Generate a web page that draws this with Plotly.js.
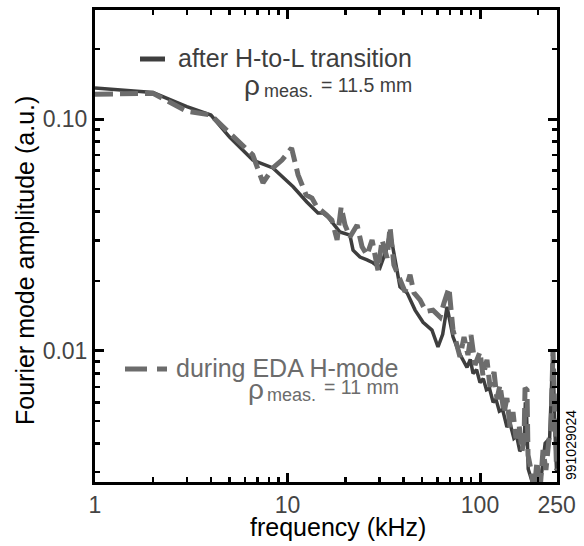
<!DOCTYPE html>
<html>
<head>
<meta charset="utf-8">
<script src="https://cdn.plot.ly/plotly-3.0.1.min.js"></script>
<style>html,body{margin:0;padding:0;background:#fff;}#chart{width:584px;height:546px;}</style>
</head>
<body>
<div id="chart"></div>
<script>
// Series "after H-to-L transition" (solid)
const freqA = [1, 2, 3, 4, 5, 5.7, 6.6, 8.4, 10.7, 12.6, 14.4, 15.3, 16.2, 18.7, 21.1, 21.9, 23.8, 25.9, 27.8, 30.2, 32.5, 34.1, 37.0, 38.4, 41.8, 46, 50.6, 56.3, 60.5, 64, 67.4, 72.4, 78, 82, 85.6, 89, 92, 96, 100, 104, 108, 112, 117, 121, 126, 131, 138, 143, 150, 155, 161, 166, 170, 172, 174, 178, 190, 205, 218, 230, 239, 245, 250];
const ampA = [0.136, 0.130, 0.113, 0.104, 0.0836, 0.075, 0.0665, 0.0615, 0.051, 0.0439, 0.0393, 0.0393, 0.0378, 0.0326, 0.0316, 0.0272, 0.0254, 0.0247, 0.024, 0.0228, 0.027, 0.0326, 0.0217, 0.0189, 0.0178, 0.0150, 0.0133, 0.0123, 0.0104, 0.0118, 0.0155, 0.0115, 0.0098, 0.0090, 0.0085, 0.0092, 0.0080, 0.0083, 0.0073, 0.0076, 0.0068, 0.0069, 0.0060, 0.0062, 0.0055, 0.0056, 0.0047, 0.0049, 0.0042, 0.0043, 0.0037, 0.0038, 0.0040, 0.0060, 0.0058, 0.0031, 0.0026, 0.0026, 0.0040, 0.0042, 0.0101, 0.0045, 0.0030];

// Series "during EDA H-mode" (dashed)
const freqB = [1, 2, 3, 4, 5, 6, 6.6, 7.46, 8.4, 9.36, 10.5, 11.35, 12.5, 13.4, 14.2, 16.0, 17.0, 18.1, 19.0, 19.9, 21.1, 23.0, 24.4, 25.9, 27.5, 29.5, 31.0, 32.9, 34.1, 35.7, 38.4, 40.8, 43.3, 45.4, 48.8, 52.4, 57.0, 62.0, 65.0, 69.0, 72.4, 76.9, 78.7, 82.6, 86.6, 89.8, 94.2, 100, 103.7, 108.7, 112.7, 118.3, 122.5, 127, 133.3, 138, 143.2, 148.4, 153.8, 159.6, 165.3, 169.3, 171.4, 175.5, 177.6, 184, 191, 197.7, 205, 212.5, 220, 228, 233.8, 239.4, 245.2, 250];
const ampB = [0.128, 0.129, 0.108, 0.104, 0.087, 0.075, 0.070, 0.053, 0.0615, 0.0665, 0.075, 0.0574, 0.047, 0.0456, 0.0418, 0.0385, 0.0367, 0.0301, 0.0418, 0.0349, 0.031, 0.0349, 0.0281, 0.0259, 0.0301, 0.0223, 0.0301, 0.0252, 0.0342, 0.0235, 0.0202, 0.0180, 0.0213, 0.0178, 0.0166, 0.0148, 0.0150, 0.0140, 0.0161, 0.0187, 0.0123, 0.0101, 0.00942, 0.01148, 0.0096, 0.01172, 0.0087, 0.0099, 0.0078, 0.00915, 0.0070, 0.00812, 0.0062, 0.00714, 0.0054, 0.00627, 0.0047, 0.00546, 0.0042, 0.0048, 0.0037, 0.00413, 0.00693, 0.00679, 0.00356, 0.00307, 0.0025, 0.00333, 0.0025, 0.00374, 0.00307, 0.00413, 0.00456, 0.0101, 0.00505, 0.00307];

// Ticks
const xTickVals = [1, 10, 100, 250];
const xTickText = ['1', '10', '100', '250'];
const yTickVals = [0.1, 0.01];
const yTickText = ['0.10', '0.01'];

// Labels
const xTitle = 'frequency (kHz)';
const yTitle = 'Fourier mode amplitude (a.u.)';
const legA1 = 'after H-to-L transition';
const legB1 = 'during EDA H-mode';
const rho = 'ρ';
const sub = 'meas.';
const legA2 = '= 11.5 mm';
const legB2 = '= 11 mm';
const stamp = '991029024';

const W = 584, H = 546, L = 95, R = 27, T = 10, B = 64;
const pw = W - L - R, ph = H - T - B;
const px = v => (v - L) / pw;
const py = v => (H - B - v) / ph;

const FONT = 'Liberation Sans, Arial, Helvetica, sans-serif';
const colA = '#3e3e3e', colB = '#6c6c6c';

const traces = [
  {x: freqA, y: ampA, type: 'scatter', mode: 'lines', line: {color: colA, width: 3.5}},
  {x: freqB, y: ampB, type: 'scatter', mode: 'lines', line: {color: colB, width: 5, dash: '18px,7px'}}
];

function note(x, y, text, size, color, xanchor, angle) {
  return {xref: 'paper', yref: 'paper', x: px(x), y: py(y), text: text, showarrow: false,
    xanchor: xanchor, yanchor: 'middle', textangle: angle || 0,
    font: {family: FONT, size: size, color: color}};
}

const baseLayout = {
  width: W, height: H,
  margin: {l: L, r: R, t: T, b: B},
  showlegend: false,
  xaxis: {type: 'log', range: [0, 2.4], tickmode: 'array', tickvals: xTickVals, ticktext: xTickText,
    showline: true, linewidth: 3, linecolor: 'black', mirror: 'allticks', ticks: 'inside', ticklen: 9, tickwidth: 3, tickcolor: 'black',
    showgrid: false, zeroline: false, tickfont: {family: FONT, size: 23},
    minor: {dtick: 'D1', ticks: 'inside', ticklen: 5, tickwidth: 2.5, tickcolor: 'black', showgrid: false}},
  yaxis: {type: 'log', range: [-2.565, -0.53], tickmode: 'array', tickvals: yTickVals, ticktext: yTickText,
    showline: true, linewidth: 3, linecolor: 'black', mirror: 'allticks', ticks: 'inside', ticklen: 9, tickwidth: 3, tickcolor: 'black',
    showgrid: false, zeroline: false, tickfont: {family: FONT, size: 23},
    minor: {dtick: 'D1', ticks: 'inside', ticklen: 5, tickwidth: 2.5, tickcolor: 'black', showgrid: false}}
};

const extras = {
  shapes: [
    {type: 'line', xref: 'paper', yref: 'paper', x0: px(140), x1: px(165), y0: py(59), y1: py(59), line: {color: colA, width: 5}},
    {type: 'line', xref: 'paper', yref: 'paper', x0: px(125), x1: px(167), y0: py(369), y1: py(369), line: {color: colB, width: 5, dash: '22px,10px'}}
  ],
  annotations: [
    note(338, 527, xTitle, 25, 'black', 'center'),
    note(25, 261, yTitle, 25, 'black', 'center', -90),
    note(176, 58, legA1, 25, colA, 'left'),
    note(242, 85, rho, 28, colA, 'left'),
    note(262, 91, sub, 18, colA, 'left'),
    note(414, 85, legA2, 19.5, colA, 'right'),
    note(174, 368, legB1, 25, colB, 'left'),
    note(246, 389, rho, 28, colB, 'left'),
    note(265, 395, sub, 18, colB, 'left'),
    note(401, 387, legB2, 19.5, colB, 'right'),
    note(571, 445, stamp, 14, 'black', 'center', -90)
  ]
};

Plotly.newPlot('chart', traces, baseLayout, {displayModeBar: false, staticPlot: true})
  .then(gd => Plotly.relayout(gd, extras));
</script>
</body>
</html>
